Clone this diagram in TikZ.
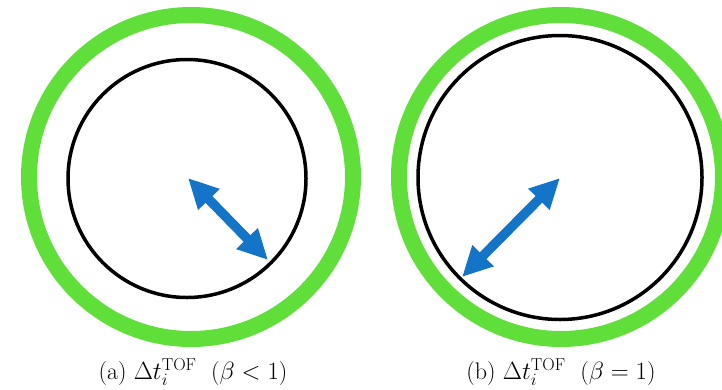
\documentclass[tikz,border=0pt]{standalone}
\usetikzlibrary{arrows.meta}
\definecolor{ringgreen}{RGB}{96,222,58}
\definecolor{arrowblue}{RGB}{20,116,200}
\begin{document}
\begin{tikzpicture}[x=1pt,y=-1pt,
  ring/.style={draw=ringgreen,line width=16pt},
  inner/.style={draw=black,line width=3.5pt},
  radarrow/.style={draw=arrowblue,line width=9.5pt,
    {Triangle[length=30pt,width=28pt]}-{Triangle[length=30pt,width=28pt]}},
  caption/.style={font=\fontsize{24}{28}\selectfont,inner sep=0pt}]
\useasboundingbox (0,0) rectangle (722,389);
% left panel
\draw[ring] (191,177) circle[radius=162];
\draw[inner] (187,178.5) circle[radius=119];
\coordinate (ac) at (188,178);
\coordinate (ae) at (268,260);
\draw[radarrow] (ac) -- (ae);
% right panel
\draw[ring] (561,177) circle[radius=162];
\draw[inner] (560,177.5) circle[radius=142];
\coordinate (bc) at (560,178);
\coordinate (be) at (462,277);
\draw[radarrow] (bc) -- (be);
% captions
\node[caption] (la) at (193,372) {(a) $\Delta t_i^{\mathrm{TOF}}$~~($\beta<1$)};
\node[caption] (lb) at (561,372) {(b) $\Delta t_i^{\mathrm{TOF}}$~~($\beta=1$)};
\end{tikzpicture}
\end{document}
